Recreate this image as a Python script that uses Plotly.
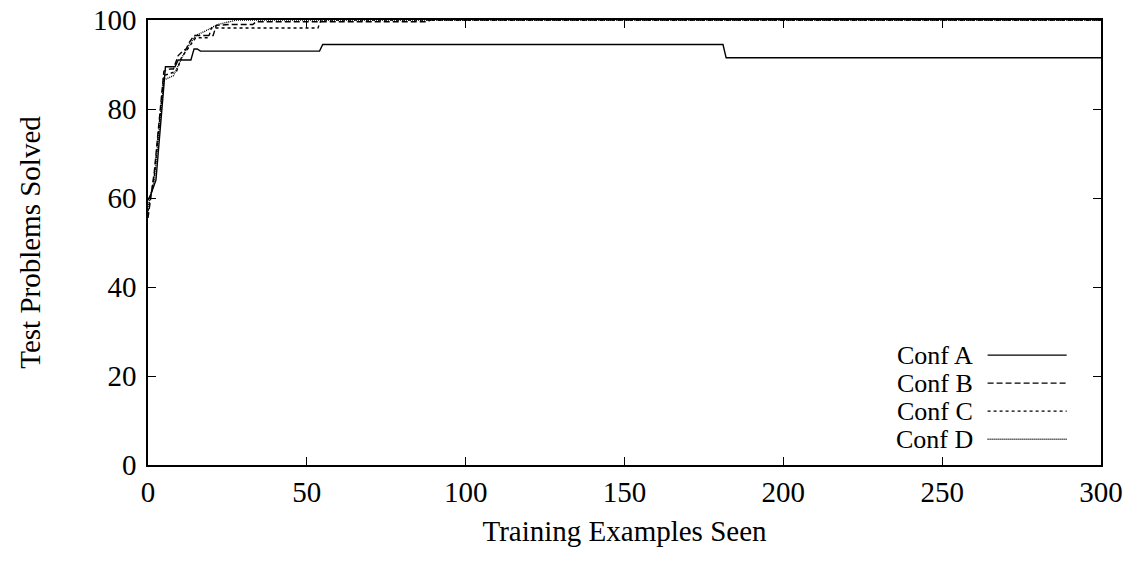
import plotly.graph_objects as go

# ---- data ----
conf_names = ["Conf A", "Conf B", "Conf C", "Conf D"]

a_x = [0, 1, 2.5, 5.5, 8.5, 9.5, 13.5, 14.5, 15.5, 16.5, 54, 55, 181, 182, 300]
a_y = [59.5, 61, 64, 89.5, 89.5, 91, 91, 93.5, 93.5, 93, 93, 94.5, 94.5, 91.5, 91.5]

b_x = [0, 2, 5, 7, 8, 9.5, 11, 12, 13, 14.5, 20.5, 21.5, 26, 33, 34, 88, 89, 300]
b_y = [55.5, 66, 88.5, 89, 89, 92, 93, 93.5, 95, 96.5, 96.5, 98.8, 99, 99, 99.6, 99.6, 100, 100]

c_x = [0, 2, 5, 7, 9, 10.5, 12, 13.5, 15, 19, 20, 53.5, 54.5, 300]
c_y = [57, 65, 87.5, 88, 88.5, 91.5, 93, 94.5, 96, 96, 98.2, 98.2, 100, 100]

d_x = [0, 2, 5, 8, 9, 11, 13, 15, 18, 22, 28, 300]
d_y = [58, 64, 86.5, 87.5, 89, 92, 94.5, 96.5, 97.5, 99, 100, 100]

x_ticks = [0, 50, 100, 150, 200, 250, 300]
y_ticks = [0, 20, 40, 60, 80, 100]

series = [(a_x, a_y), (b_x, b_y), (c_x, c_y), (d_x, d_y)]
dashes = ["solid", "6px,3px", "3px,3px", "1px,1px"]

FONT = "Liberation Serif"
fig = go.Figure()
for (xs, ys), name, dash in zip(series, conf_names, dashes):
    fig.add_trace(go.Scatter(x=xs, y=ys, mode="lines", name=name,
                             line=dict(color="black", width=1.4, dash=dash),
                             showlegend=False))

# manual gnuplot-style legend (text right, sample line right of text)
leg_y = [0.247, 0.184, 0.121, 0.058]
for name, dash, yy in zip(conf_names, dashes, leg_y):
    fig.add_annotation(x=0.868, y=yy, xref="paper", yref="paper", text=name,
                       showarrow=False, xanchor="right", yanchor="middle",
                       font=dict(family=FONT, size=26, color="black"))
    fig.add_shape(type="line", xref="paper", yref="paper", x0=0.881, x1=0.964,
                  y0=yy, y1=yy, line=dict(color="black", width=1.4, dash=dash))

axis_common = dict(showline=True, linecolor="black", linewidth=1.5, mirror="ticks",
                   ticks="inside", ticklen=8, tickwidth=1.2, tickcolor="black",
                   showgrid=False, zeroline=False, automargin=False,
                   ticklabeloverflow="allow",
                   tickfont=dict(family=FONT, size=29, color="black"))

fig.update_layout(
    width=1144, height=561,
    margin=dict(l=148, r=43, t=20, b=96),
    paper_bgcolor="white", plot_bgcolor="white",
    xaxis=dict(range=[0, 300], tickvals=x_ticks, **axis_common,
               title=dict(text="Training Examples Seen", standoff=14,
                          font=dict(family=FONT, size=29, color="black"))),
    yaxis=dict(range=[0, 100], tickvals=y_ticks, ticklabelstandoff=4, **axis_common,
               title=dict(text="Test Problems Solved", standoff=44,
                          font=dict(family=FONT, size=29, color="black"))),
)

fig.write_html("out.html", config={"displayModeBar": False},
               post_script="document.body.style.margin='0';")
